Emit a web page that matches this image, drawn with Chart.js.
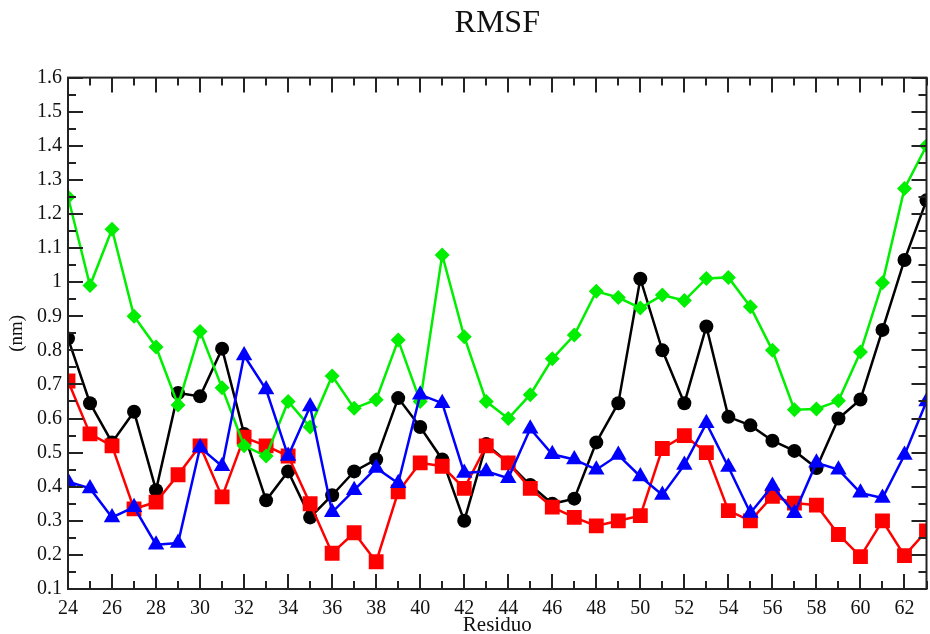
<!DOCTYPE html>
<html>
<head>
<meta charset="utf-8">
<title>RMSF</title>
<script src="https://cdn.jsdelivr.net/npm/chart.js@4.4.0/dist/chart.umd.min.js"></script>
<style>
  html, body { margin: 0; padding: 0; background: #fff; overflow: hidden; }
  #wrap { width: 930px; height: 634px; overflow: hidden; }
</style>
</head>
<body>
<div id="wrap"><canvas id="rmsfChart" width="937" height="634"></canvas></div>
<script>
// Data
const residues = [24,25,26,27,28,29,30,31,32,33,34,35,36,37,38,39,40,41,42,43,
                  44,45,46,47,48,49,50,51,52,53,54,55,56,57,58,59,60,61,62,63];
const rmsfBlack = [0.835,0.645,0.53,0.62,0.39,0.675,0.665,0.805,0.555,0.36,0.445,0.31,0.375,0.445,0.48,0.66,0.575,0.48,0.30,0.525,
                   0.47,0.405,0.35,0.365,0.53,0.645,1.01,0.80,0.645,0.87,0.605,0.58,0.535,0.505,0.455,0.60,0.656,0.86,1.065,1.24];
const rmsfRed   = [0.71,0.555,0.52,0.335,0.355,0.435,0.52,0.37,0.545,0.52,0.49,0.35,0.205,0.265,0.18,0.385,0.47,0.46,0.395,0.52,
                   0.47,0.395,0.34,0.31,0.285,0.30,0.315,0.512,0.55,0.50,0.33,0.30,0.372,0.352,0.346,0.26,0.195,0.30,0.198,0.27];
const rmsfGreen = [1.25,0.99,1.155,0.90,0.81,0.64,0.855,0.69,0.52,0.49,0.65,0.575,0.725,0.63,0.655,0.83,0.65,1.08,0.84,0.65,
                   0.60,0.67,0.775,0.845,0.973,0.955,0.924,0.962,0.946,1.011,1.014,0.928,0.80,0.626,0.628,0.652,0.795,0.998,1.275,1.40];
const rmsfBlue  = [0.415,0.395,0.31,0.34,0.23,0.235,0.515,0.46,0.785,0.685,0.49,0.635,0.325,0.39,0.455,0.41,0.67,0.645,0.44,0.445,
                   0.425,0.57,0.495,0.48,0.45,0.493,0.43,0.376,0.464,0.586,0.458,0.323,0.402,0.322,0.47,0.45,0.382,0.367,0.493,0.65];
const xTicks = [24,26,28,30,32,34,36,38,40,42,44,46,48,50,52,54,56,58,60,62];
const yTicks = [0.1,0.2,0.3,0.4,0.5,0.6,0.7,0.8,0.9,1.0,1.1,1.2,1.3,1.4,1.5,1.6];

const serif = "'Liberation Serif', 'DejaVu Serif', serif";
const ink = "#111";
const pts = (vals) => residues.map((r, i) => ({ x: r, y: vals[i] }));

const series = (vals, color, style, radius) => ({
  data: pts(vals),
  borderColor: color,
  backgroundColor: color,
  borderWidth: 2.5,
  pointStyle: style,
  pointRadius: radius,
  pointBorderWidth: 0,
  pointBackgroundColor: color,
  tension: 0
});

// Frame with inward ticks on all four sides (xmgrace look)
const frameTicks = {
  id: "frameTicks",
  afterDraw(chart) {
    const { ctx, chartArea: a, scales: { x, y } } = chart;
    ctx.save();
    ctx.strokeStyle = "#222";
    ctx.lineWidth = 2;
    ctx.strokeRect(a.left, a.top, a.right - a.left, a.bottom - a.top);
    ctx.beginPath();
    for (let v = 24; v <= 63; v++) {
      const px = Math.round(x.getPixelForValue(v)), len = v % 2 === 0 ? 15 : 8;
      ctx.moveTo(px, a.bottom); ctx.lineTo(px, a.bottom - len);
      ctx.moveTo(px, a.top); ctx.lineTo(px, a.top + len);
    }
    for (let i = 2; i <= 32; i++) {
      const py = Math.round(y.getPixelForValue(i * 0.05)), len = i % 2 === 0 ? 15 : 8;
      ctx.moveTo(a.left, py); ctx.lineTo(a.left + len, py);
      ctx.moveTo(a.right, py); ctx.lineTo(a.right - len, py);
    }
    ctx.stroke();
    ctx.restore();
  }
};

new Chart(document.getElementById("rmsfChart").getContext("2d"), {
  type: "line",
  data: {
    // first dataset ends up on top
    datasets: [
      series(rmsfBlue, "#0000ff", "triangle", 9.5),
      series(rmsfGreen, "#00ee00", "rectRot", 7.5),
      series(rmsfRed, "#ff0000", "rect", 10.5),
      series(rmsfBlack, "#000000", "circle", 7)
    ]
  },
  options: {
    responsive: false,
    animation: false,
    layout: { padding: { top: 0, right: 1, bottom: 0, left: 0 } },
    plugins: {
      legend: { display: false },
      tooltip: { enabled: false },
      title: {
        display: true, text: "RMSF", color: ink, fullSize: false,
        font: { family: serif, size: 32, weight: "normal" },
        padding: { top: 4, bottom: 35.2 }
      }
    },
    scales: {
      x: {
        type: "linear", min: 24, max: 63,
        grid: { display: false, drawTicks: false },
        border: { display: false },
        afterBuildTicks: (s) => { s.ticks = xTicks.map(v => ({ value: v })); },
        afterFit: (s) => { s.height = 45; },
        ticks: { color: ink, font: { family: serif, size: 20 }, padding: 8, maxRotation: 0 },
        title: { display: true, text: "Residuo", color: ink, font: { family: serif, size: 21 }, padding: { top: 0, bottom: -4 } }
      },
      y: {
        type: "linear", min: 0.1, max: 1.6,
        grid: { display: false, drawTicks: false },
        border: { display: false },
        afterBuildTicks: (s) => { s.ticks = yTicks.map(v => ({ value: v })); },
        afterFit: (s) => { s.width = 68; },
        ticks: { color: ink, font: { family: serif, size: 20 }, padding: 6, callback: (v) => String(Number(v.toFixed(1))) },
        title: { display: true, text: "(nm)", color: ink, font: { family: serif, size: 19 }, padding: { top: 6, bottom: 0 } }
      }
    }
  },
  plugins: [frameTicks]
});
</script>
</body>
</html>
